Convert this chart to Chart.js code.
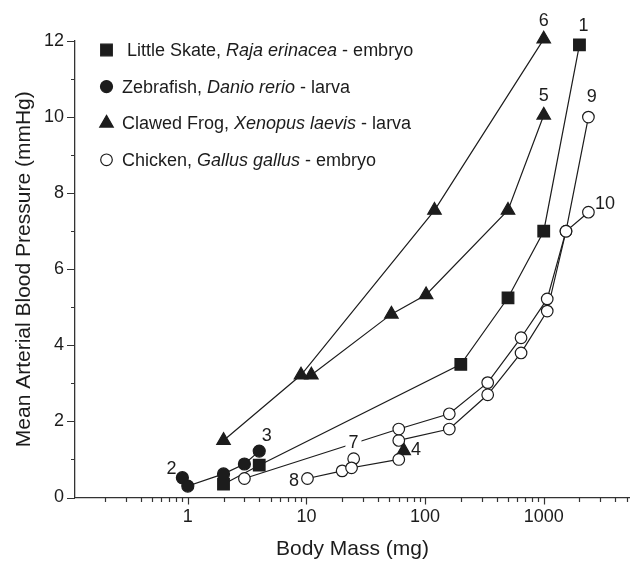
<!DOCTYPE html>
<html>
<head>
<meta charset="utf-8">
<script src="https://cdn.jsdelivr.net/npm/chart.js@4.4.0/dist/chart.umd.min.js"></script>
<style>
  html, body { margin: 0; padding: 0; background: #fff; }
  #wrap { width: 630px; height: 562px; }
</style>
</head>
<body>
<div id="wrap"><canvas id="myChart" width="630" height="562"></canvas></div>
<script>
'use strict';

// body mass (mg) and mean arterial pressure (mmHg)

// Little Skate, Raja erinacea - embryo
let skateMass = [2, 4, 200, 500, 1000, 2000];
let skatePressure = [0.35, 0.85, 3.5, 5.25, 7.0, 11.9];

// Zebrafish, Danio rerio - larva
let fishMass = [0.9, 1, 2, 3, 4];
let fishPressure = [0.52, 0.3, 0.62, 0.88, 1.22];

// Clawed Frog, Xenopus laevis - larva (three studies)
let frog6Mass = [2, 9, 120, 1000];
let frog6Pressure = [1.5, 3.22, 7.55, 12.05];
let frog5Mass = [11, 52, 102, 500, 1000];
let frog5Pressure = [3.22, 4.82, 5.33, 7.55, 10.05];
let frog4Mass = [66];
let frog4Pressure = [1.23];

// Chicken, Gallus gallus - embryo
let chick7Mass = [3, 60, 160, 337, 644, 1070, 1540, 2380];
let chick7Pressure = [0.5, 1.8, 2.2, 3.02, 4.2, 5.22, 7.0, 10.0];
let chick8Mass = [10.2, 20, 25, 24, 60];
let chick8Pressure = [0.5, 0.7, 1.02, 0.78, 1.0];
let chick10Mass = [60, 160, 337, 644, 1070, 1540, 2380];
let chick10Pressure = [1.5, 1.8, 2.7, 3.8, 4.9, 7.0, 7.5];

// study numbers written next to the curves
let noteText = ['1', '2', '3', '4', '5', '6', '7', '8', '9', '10'];
let noteMass = [2160, 0.73, 4.63, 84, 1000, 1000, 24.9, 7.87, 2540, 3280];
let notePressure = [12.4, 0.75, 1.62, 1.25, 10.56, 12.53, 1.42, 0.43, 10.54, 7.72];

// axis
let xMajorTicks = [1, 10, 100, 1000];
let yTickValues = [0, 1, 2, 3, 4, 5, 6, 7, 8, 9, 10, 11, 12];

let legendParts = [
  [' Little Skate, ', 'Raja erinacea', ' - embryo'],
  ['Zebrafish, ', 'Danio rerio', ' - larva'],
  ['Clawed Frog, ', 'Xenopus laevis', ' - larva'],
  ['Chicken, ', 'Gallus gallus', ' - embryo']
];

const FONT = '"Liberation Sans", Arial, Helvetica, sans-serif';
const INK = '#1c1c1c';

let markSquare = { pointStyle: 'rect', radius: 8.2, fill: INK };
let markDot = { pointStyle: 'circle', radius: 6, fill: INK };
let markTri = { pointStyle: 'triangle', radius: 7.8, fill: INK };
let markOpen = { pointStyle: 'circle', radius: 5.8, fill: '#fff' };

function series(xs, ys, mark) {
  let pts = [];
  for (let i = 0; i < xs.length; i++) {
    pts.push({ x: xs[i], y: ys[i] });
  }
  return {
    data: pts,
    showLine: true,
    tension: 0,
    borderColor: INK,
    borderWidth: 1.2,
    pointStyle: mark.pointStyle,
    pointRadius: mark.radius,
    pointHoverRadius: mark.radius,
    pointBackgroundColor: mark.fill,
    pointBorderColor: INK,
    pointBorderWidth: 1.2,
    clip: false
  };
}

// tick marks: long at labelled values, short in between
const tickMarks = {
  id: 'tickMarks',
  afterDraw(chart) {
    const ctx = chart.ctx;
    const xs = chart.scales.x;
    const ys = chart.scales.y;
    ctx.save();
    ctx.strokeStyle = '#333';
    ctx.lineWidth = 1.2;
    ctx.beginPath();
    for (let e = -1; e <= 3; e++) {
      for (let m = 1; m <= 9; m++) {
        let v = m * Math.pow(10, e);
        if (v < xs.min || v > xs.max) continue;
        let px = Math.round(xs.getPixelForValue(v)) + 0.5;
        let len = m === 1 ? 7 : 4.5;
        ctx.moveTo(px, xs.top);
        ctx.lineTo(px, xs.top + len);
      }
    }
    yTickValues.forEach(v => {
      let py = Math.round(ys.getPixelForValue(v)) + 0.5;
      let len = v % 2 === 0 ? 8 : 4;
      ctx.moveTo(ys.right, py);
      ctx.lineTo(ys.right - len, py);
    });
    ctx.stroke();
    ctx.restore();
  }
};

// numbers beside the curves, plus the legend with italic species names
const notes = {
  id: 'notes',
  afterDatasetsDraw(chart) {
    const ctx = chart.ctx;
    const xs = chart.scales.x;
    const ys = chart.scales.y;
    ctx.save();
    ctx.font = '18px ' + FONT;
    ctx.textAlign = 'center';
    ctx.textBaseline = 'middle';
    for (let i = 0; i < noteText.length; i++) {
      let px = xs.getPixelForValue(noteMass[i]);
      let py = ys.getPixelForValue(notePressure[i]);
      if (noteText[i] === '7') {
        // label sits in a gap of its line
        let w = ctx.measureText(noteText[i]).width;
        ctx.fillStyle = '#fff';
        ctx.fillRect(px - w / 2 - 3, py - 8, w + 6, 16);
      }
      ctx.fillStyle = INK;
      ctx.fillText(noteText[i], px, py);
    }

    let marks = [markSquare, markDot, markTri, markOpen];
    ctx.textAlign = 'left';
    for (let r = 0; r < legendParts.length; r++) {
      let y = 50 + r * 36.6;
      let mk = marks[r];
      ctx.fillStyle = mk.fill;
      ctx.strokeStyle = INK;
      ctx.lineWidth = 1.2;
      Chart.helpers.drawPoint(ctx, {
        pointStyle: mk.pointStyle, radius: mk.radius, rotation: 0, borderWidth: 1.2
      }, 106.5, y);
      let x = 122;
      ctx.fillStyle = INK;
      legendParts[r].forEach((p, j) => {
        ctx.font = (j === 1 ? 'italic ' : '') + '18px ' + FONT;
        ctx.fillText(p, x, y + 1);
        x += ctx.measureText(p).width;
      });
    }
    ctx.restore();
  }
};

let canvasElem = document.getElementById('myChart');

new Chart(canvasElem, {
  type: 'scatter',
  data: {
    datasets: [
      series(chick7Mass, chick7Pressure, markOpen),
      series(chick8Mass, chick8Pressure, markOpen),
      series(chick10Mass, chick10Pressure, markOpen),
      series(skateMass, skatePressure, markSquare),
      series(fishMass, fishPressure, markDot),
      series(frog6Mass, frog6Pressure, markTri),
      series(frog5Mass, frog5Pressure, markTri),
      series(frog4Mass, frog4Pressure, markTri)
    ]
  },
  options: {
    responsive: false,
    animation: false,
    events: [],
    layout: { autoPadding: false, padding: { top: 41, right: 0, left: 0, bottom: 0 } },
    plugins: {
      legend: { display: false },
      tooltip: { enabled: false }
    },
    scales: {
      x: {
        type: 'logarithmic',
        min: 0.112,
        max: 5335,
        grid: { display: false, drawTicks: false },
        border: { display: true, color: '#333', width: 1.3 },
        ticks: {
          autoSkip: false,
          maxRotation: 0,
          padding: 9,
          color: INK,
          font: { family: FONT, size: 18 },
          callback: v => xMajorTicks.includes(v) ? String(v) : ''
        },
        title: {
          display: true,
          text: 'Body Mass (mg)',
          color: INK,
          font: { family: FONT, size: 21 },
          padding: { top: 0, bottom: 0 }
        },
        afterFit(scale) {
          scale.height = 64.5;
          scale.paddingLeft = 0;
          scale.paddingRight = 0;
        }
      },
      y: {
        min: 0,
        max: 12,
        grid: { display: false, drawTicks: false },
        border: { display: true, color: '#333', width: 1.3 },
        ticks: {
          stepSize: 1,
          padding: 11,
          color: INK,
          font: { family: FONT, size: 18 },
          callback: v => v % 2 === 0 ? String(v) : ''
        },
        title: {
          display: true,
          text: 'Mean Arterial Blood Pressure (mmHg)',
          color: INK,
          font: { family: FONT, size: 21 },
          padding: { top: 12, bottom: 0 }
        },
        afterFit(scale) {
          scale.width = 75;
          scale.paddingTop = 0;
          scale.paddingBottom = 0;
        }
      }
    }
  },
  plugins: [tickMarks, notes]
});
</script>
</body>
</html>
